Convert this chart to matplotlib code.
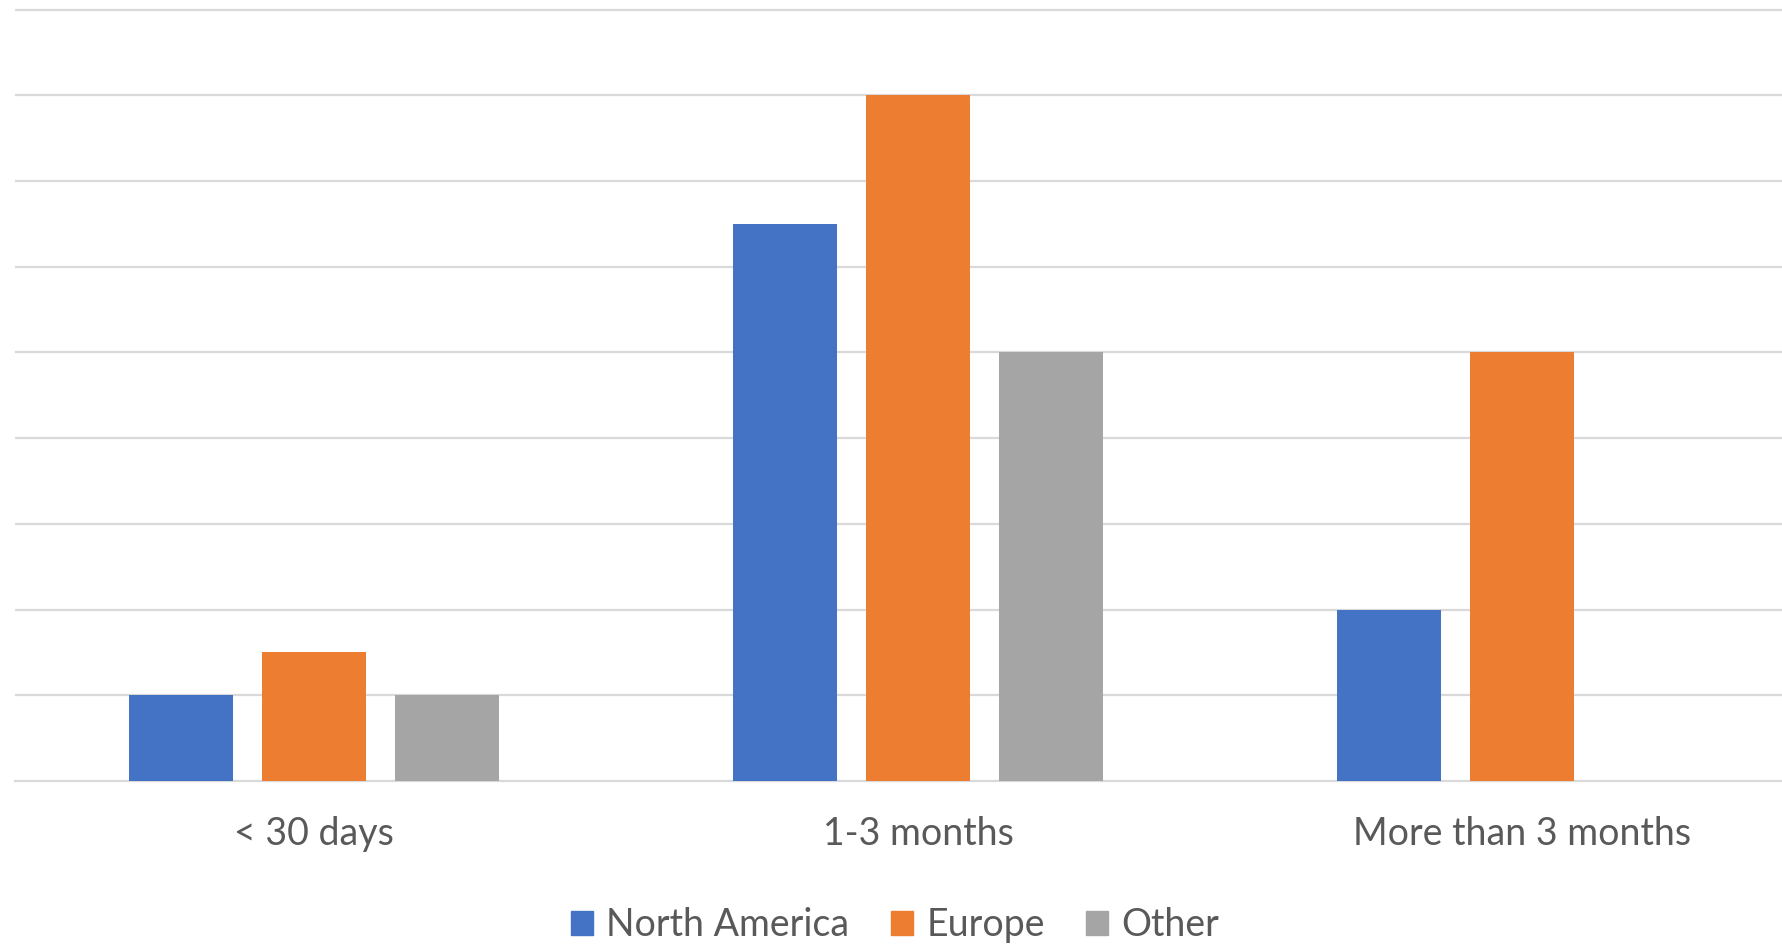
import numpy as np
import matplotlib
matplotlib.use('Agg')
import matplotlib.pyplot as plt
import matplotlib.patches as mpatches

categories = ['< 30 days', '1-3 months', 'More than 3 months']
north_america = [1, 6.5, 2]
europe = [1.5, 8, 5]
other = [1, 5, 0]

series_names = ['North America', 'Europe', 'Other']
series_colors = ['#4472C4', '#ED7D31', '#A5A5A5']

plt.rcParams['font.family'] = ['Lato', 'DejaVu Sans']

fig = plt.figure(figsize=(17.83, 9.47), dpi=100)
ax = fig.add_axes([15/1783, 166/947, 1 - 15/1783, 9.1*85.7/947])

x = np.arange(len(categories))
bar_w = 0.172
step = 0.22
for i, (vals, col) in enumerate(zip([north_america, europe, other], series_colors)):
    ax.bar(x + (i - 1)*step, vals, bar_w, color=col, zorder=3)

ax.set_xlim(-0.495, 2.432)
ax.set_ylim(0, 9.1)
ax.set_yticks(np.arange(1, 10))
ax.yaxis.grid(True, color='#d9d9d9', linewidth=1.6, zorder=0)
ax.tick_params(axis='y', left=False, labelleft=False)
ax.set_xticks(x, categories)
ax.tick_params(axis='x', length=0, pad=25, labelsize=27, labelcolor='#595959')
for s in ['top', 'left', 'right']:
    ax.spines[s].set_visible(False)
ax.spines['bottom'].set_color('#d9d9d9')
ax.spines['bottom'].set_linewidth(1.6)

handles = [mpatches.Patch(color=c, label=n) for n, c in zip(series_names, series_colors)]
leg = fig.legend(handles=handles, loc='center', bbox_to_anchor=(895/1783, 1 - 925/947),
                 ncol=3, frameon=False, fontsize=27, handlelength=0.6, handleheight=0.6,
                 handletextpad=0.35, columnspacing=1.1, labelcolor='#595959')

fig.savefig('out.png', dpi=100)
